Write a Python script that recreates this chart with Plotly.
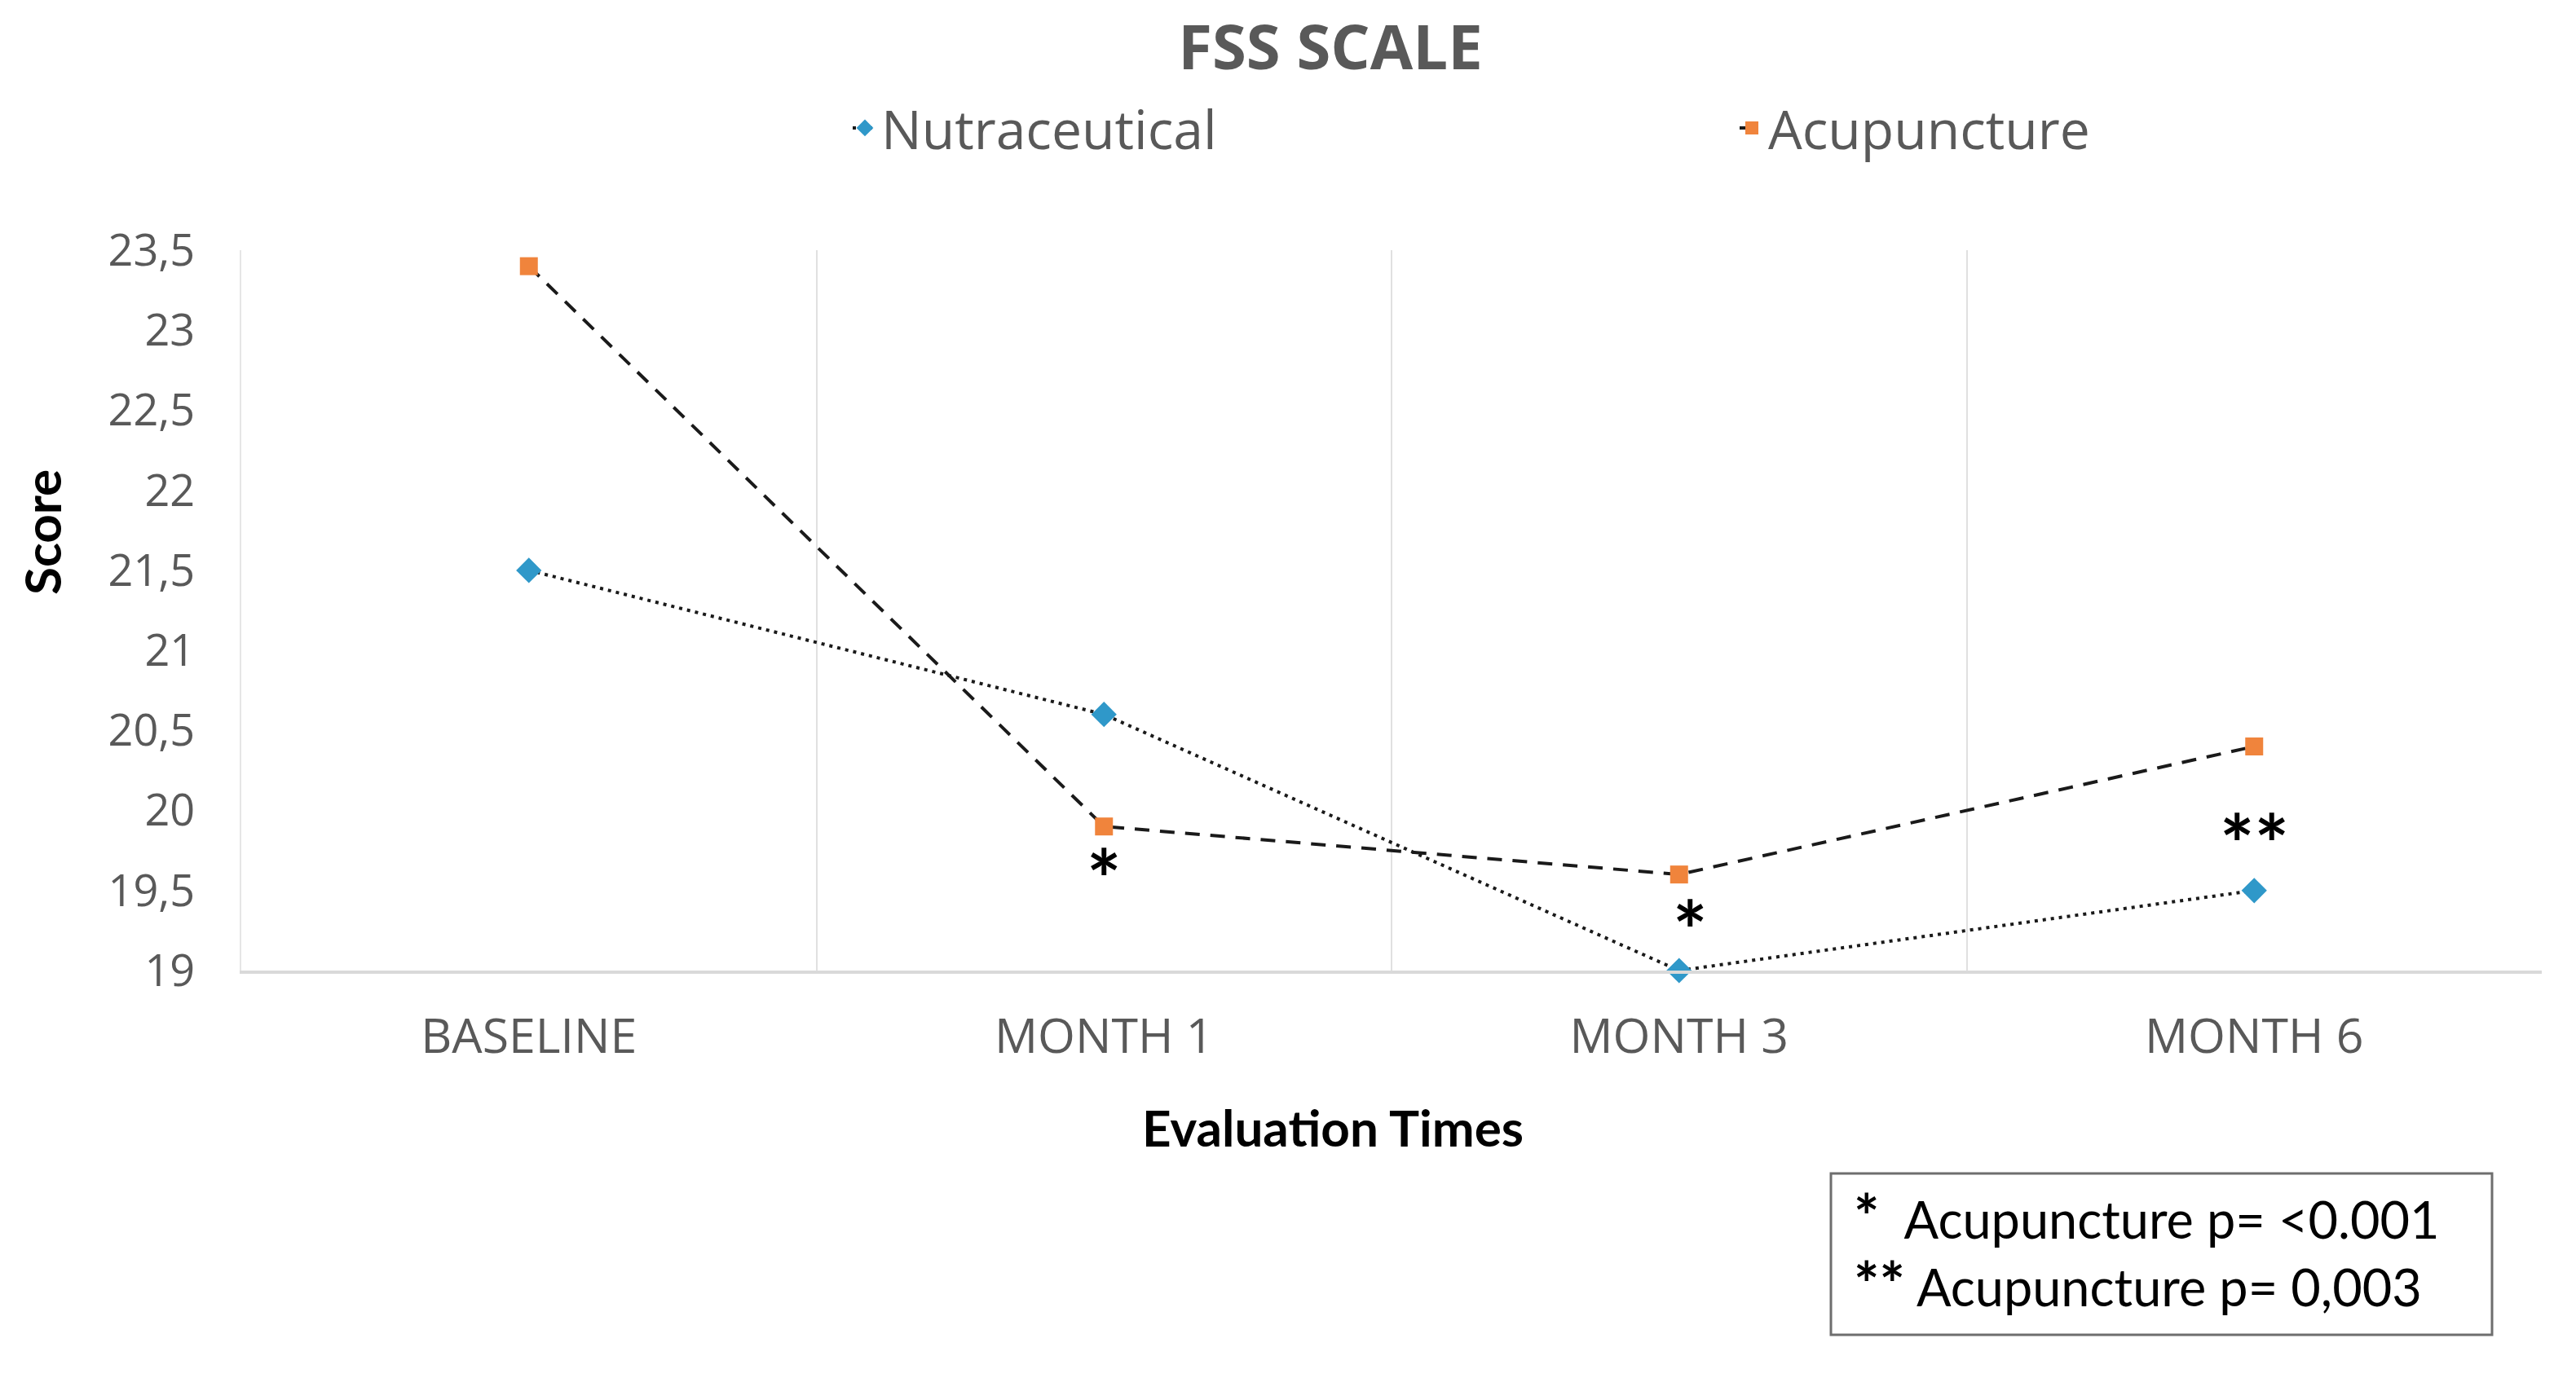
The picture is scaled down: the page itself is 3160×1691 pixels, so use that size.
import plotly.graph_objects as go

categories = ["BASELINE", "MONTH 1", "MONTH 3", "MONTH 6"]
nutraceutical = [21.5, 20.6, 19.0, 19.5]
acupuncture = [23.4, 19.9, 19.6, 20.4]
y_tickvals = [19, 19.5, 20, 20.5, 21, 21.5, 22, 22.5, 23, 23.5]
y_ticktext = ["19", "19,5", "20", "20,5", "21", "21,5", "22", "22,5", "23", "23,5"]
sig_cats = ["MONTH 1", "MONTH 3", "MONTH 6"]
sig_marks = ["*", "*", "**"]
sig_y = [19.65, 19.33, 19.87]
note_stars = ["*", "**"]
note_texts = ["  Acupuncture p= <0.001", " Acupuncture p= 0,003"]

W, H = 3160, 1691
L, R, T, B = 296, 42, 307, 500
pw, ph = W - L - R, H - T - B

def px(x):
    return (x - L) / pw

def py(y):
    return (H - B - y) / ph

fig = go.Figure()
fig.add_trace(go.Scatter(
    x=categories, y=nutraceutical, name="Nutraceutical", mode="lines+markers",
    line=dict(color="#1a1a1a", width=4, dash="4px,6px"),
    marker=dict(symbol="diamond", size=24, color="#2F98C9"),
    cliponaxis=False, legend="legend"))
fig.add_trace(go.Scatter(
    x=categories, y=acupuncture, name="Acupuncture", mode="lines+markers",
    line=dict(color="#1a1a1a", width=4, dash="18px,13px"),
    marker=dict(symbol="square", size=22, color="#F0843C"),
    cliponaxis=False, legend="legend2"))

ann = []
xoff = [0, 0.02, 0]
for c, m, yv, dx in zip(sig_cats, sig_marks, sig_y, xoff):
    ann.append(dict(x=categories.index(c) + dx, y=yv, xref="x", yref="y", text="<b>" + m + "</b>",
                    showarrow=False, yshift=-14,
                    font=dict(family="Lato", size=100, color="#000000"),
                    xanchor="center", yanchor="middle"))

ann.append(dict(x=px(1635), y=py(1383), xref="paper", yref="paper", text="<b>Evaluation Times</b>",
                showarrow=False, font=dict(family="Lato", size=62, color="#000000"),
                xanchor="center", yanchor="middle"))
ann.append(dict(x=px(51), y=py(653), xref="paper", yref="paper", text="<b>Score</b>",
                showarrow=False, textangle=-90, font=dict(family="Lato", size=62, color="#000000"),
                xanchor="center", yanchor="middle"))
for s, t, yy in zip(note_stars, note_texts, [1491, 1574]):
    ann.append(dict(x=px(2272), y=py(yy), xref="paper", yref="paper",
                    text="<span style='font-size:74px'><b>" + s + "</b></span>" + t,
                    showarrow=False, font=dict(family="Lato", size=63, color="#000000"),
                    xanchor="left", yanchor="middle"))

fig.update_layout(
    width=W, height=H,
    margin=dict(l=L, r=R, t=T, b=B),
    paper_bgcolor="white", plot_bgcolor="white",
    title=dict(text="<b>FSS SCALE</b>", x=px(1632), xref="paper", xanchor="center",
               y=1 - 58 / H, yanchor="middle",
               font=dict(family="Open Sans", size=76, color="#595959")),
    legend=dict(orientation="h", x=px(1041), y=py(157), xanchor="left", yanchor="middle",
                font=dict(family="Open Sans", size=66, color="#595959"),
                bgcolor="rgba(0,0,0,0)"),
    legend2=dict(orientation="h", x=px(2129), y=py(157), xanchor="left", yanchor="middle",
                 font=dict(family="Open Sans", size=66, color="#595959"),
                 bgcolor="rgba(0,0,0,0)"),
    xaxis=dict(type="category", categoryorder="array", categoryarray=categories,
               range=[-0.5, 3.5], showgrid=True, gridcolor="#E0E0E0", gridwidth=2,
               tickson="boundaries", ticks="", showline=True, linecolor="#D9D9D9", linewidth=4,
               tickfont=dict(family="Open Sans", size=59, color="#595959"),
               ticklabelstandoff=26, zeroline=False),
    yaxis=dict(range=[19, 23.5], tickvals=y_tickvals, ticktext=y_ticktext,
               showgrid=False, zeroline=False, showline=True, linecolor="#E6E6E6", linewidth=2,
               ticks="", tickfont=dict(family="Open Sans", size=54, color="#595959"),
               ticklabelstandoff=44),
    annotations=ann,
    shapes=[dict(type="rect", xref="paper", yref="paper",
                 x0=px(2246), x1=px(3057), y0=py(1638), y1=py(1440),
                 line=dict(color="#6E6E6E", width=3), fillcolor="rgba(0,0,0,0)")],
    showlegend=True,
)

fig.write_html("out.html", config={"displayModeBar": False},
               post_script="document.body.style.margin='0px';")
